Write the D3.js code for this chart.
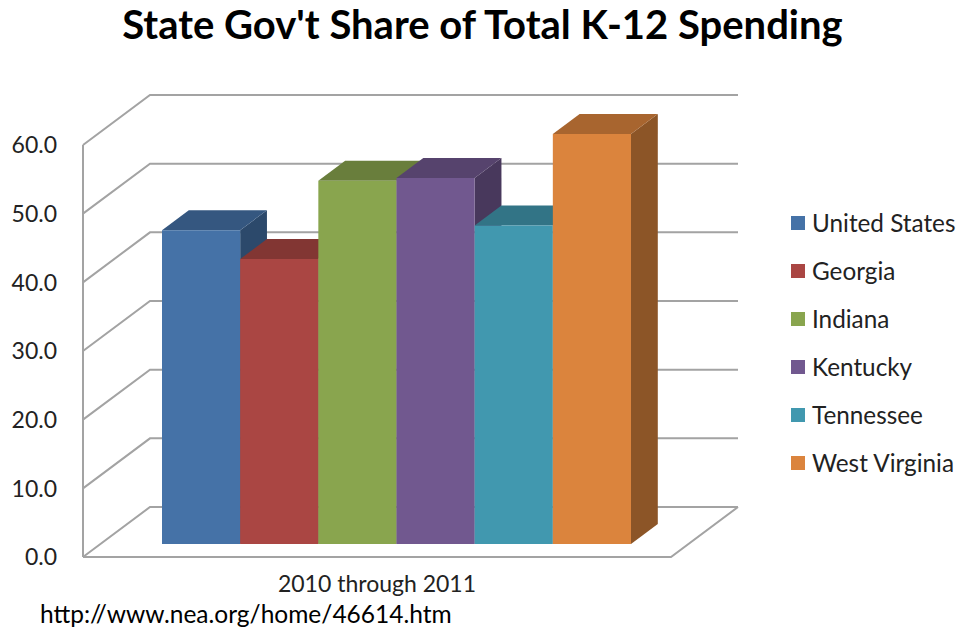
<!DOCTYPE html>
<html>
<head>
<meta charset="utf-8">
<script src="https://cdn.jsdelivr.net/npm/d3@7"></script>
<style>
  html, body { margin: 0; padding: 0; background: #ffffff; }
  svg { display: block; font-family: Lato, "Open Sans", sans-serif; }
</style>
</head>
<body>
<svg id="chart" width="959" height="629"></svg>
<script>
// Data
const title = "State Gov't Share of Total K-12 Spending";
const categories = ["2010 through 2011"];
const states = ["United States", "Georgia", "Indiana", "Kentucky", "Tennessee", "West Virginia"];
const shares = [45.7, 41.5, 52.9, 53.3, 46.4, 59.7];
const yTicks = [0, 10, 20, 30, 40, 50, 60];
const sourceNote = "http://www.nea.org/home/46614.htm";

// Palette (front faces)
const palette = ["#4572A7", "#AA4643", "#89A54E", "#71588F", "#4198AF", "#DB843D"];

const svg = d3.select("#chart");

// 3D box: front plane scales plus a depth offset
const DX = 67, DY = 50;                 // full depth of the plot box
const yFront = d3.scaleLinear().domain([0, 60]).range([557, 145]);
const xFront = d3.scaleLinear().domain([0, 1]).range([83, 671]);
const proj = (x, v, z) => [x + z * DX, yFront(v) - z * DY];

// Bars sit in a slab between these depths
const z0 = 0.26, z1 = 0.66;
const xBand = d3.scaleBand().domain(states)
  .range([162 - z0 * DX, 631 - z0 * DX]).paddingInner(0).paddingOuter(0);

const gridColor = "#a3a3a3";
const line = d3.line();

// Back wall + side wall gridlines
const grid = svg.append("g").attr("fill", "none").attr("stroke", gridColor).attr("stroke-width", 2);
grid.selectAll("path.grid").data(yTicks).join("path")
  .attr("class", "grid")
  .attr("d", t => line([proj(xFront(0), t, 0), proj(xFront(0), t, 1), proj(xFront(1), t, 1)]));

// Floor outline and vertical axis
grid.append("path").attr("d", line([proj(xFront(0), 0, 0), proj(xFront(1), 0, 0), proj(xFront(1), 0, 1)]));
grid.append("path").attr("d", line([proj(xFront(0), 0, 0), proj(xFront(0), 60, 0)]));

// Tick labels
svg.append("g").selectAll("text").data(yTicks).join("text")
  .attr("x", 57).attr("y", t => yFront(t)).attr("dy", "0.36em")
  .attr("text-anchor", "end").attr("font-size", 23).attr("fill", "#222")
  .text(d3.format(".1f"));

// Bars (left to right so each bar covers its neighbour's side)
const bars = svg.append("g");
states.forEach((s, i) => {
  const v = shares[i];
  const xa = xBand(s), xb = xa + xBand.bandwidth();
  const base = d3.color(palette[i]);
  const g = bars.append("g");
  g.append("path").attr("fill", base.darker(1.25).formatHex())
    .attr("d", line([proj(xb, v, z0), proj(xb, v, z1), proj(xb, 0, z1), proj(xb, 0, z0)]) + "Z");
  g.append("path").attr("fill", base.darker(0.75).formatHex())
    .attr("d", line([proj(xa, v, z0), proj(xb, v, z0), proj(xb, v, z1), proj(xa, v, z1)]) + "Z");
  g.append("path").attr("fill", base.formatHex())
    .attr("d", line([proj(xa, v, z0), proj(xb, v, z0), proj(xb, 0, z0), proj(xa, 0, z0)]) + "Z");
});

// Category label
svg.append("text").attr("x", (xFront(0) + xFront(1)) / 2 + 0).attr("y", 592)
  .attr("text-anchor", "middle").attr("font-size", 23).attr("fill", "#222")
  .text(categories[0]);

// Title
svg.append("text").attr("x", 482.5).attr("y", 39)
  .attr("text-anchor", "middle").attr("font-size", 40).attr("font-weight", 700).attr("fill", "#000")
  .text(title);

// Legend
const legend = svg.append("g");
states.forEach((s, i) => {
  const cy = 223 + i * 48;
  legend.append("rect").attr("x", 791).attr("y", cy - 7).attr("width", 14).attr("height", 14)
    .attr("fill", palette[i]);
  legend.append("text").attr("x", 812).attr("y", cy).attr("dy", "0.36em")
    .attr("font-size", 24.3).attr("fill", "#222").text(s);
});

// Source note
svg.append("text").attr("x", 40).attr("y", 623).attr("font-size", 24.5).attr("fill", "#000")
  .text(sourceNote);
</script>
</body>
</html>
